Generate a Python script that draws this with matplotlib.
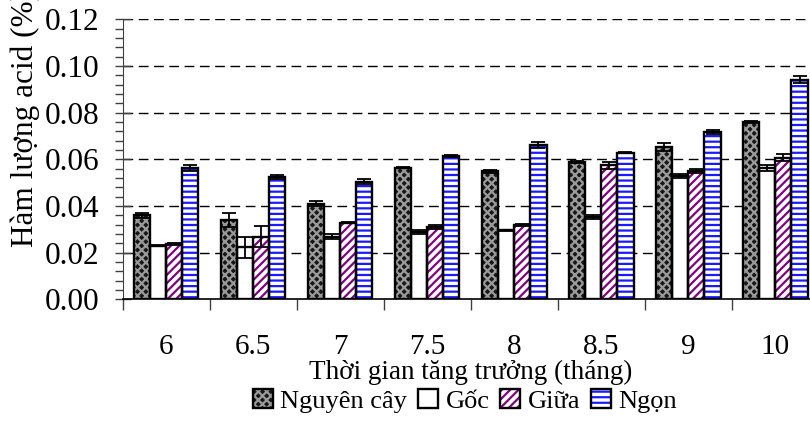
import matplotlib
matplotlib.use("Agg")
import matplotlib.pyplot as plt
from matplotlib.legend_handler import HandlerTuple
from matplotlib.ticker import MultipleLocator, FixedLocator, NullFormatter
import numpy as np

# growth time groups and acid content of each plant part
months = ["6", "6.5", "7", "7.5", "8", "8.5", "9", "10"]
series_names = ["Nguyên cây", "Gốc", "Giữa", "Ngọn"]

nguyen_cay = [0.0360, 0.0340, 0.0410, 0.0564, 0.0548, 0.0589, 0.0654, 0.0758]
nguyen_cay_err = [0.0010, 0.0030, 0.0010, 0.0003, 0.0008, 0.0003, 0.0017, 0.0004]

goc = [0.0229, 0.0222, 0.0268, 0.0287, 0.0296, 0.0352, 0.0527, 0.0564]
goc_err = [0.0002, 0.0045, 0.0010, 0.0008, 0.0002, 0.0008, 0.0008, 0.0013]

giua = [0.0237, 0.0267, 0.0328, 0.0310, 0.0318, 0.0575, 0.0549, 0.0607]
giua_err = [0.0003, 0.0045, 0.0003, 0.0008, 0.0003, 0.0015, 0.0008, 0.0015]

ngon = [0.0563, 0.0523, 0.0504, 0.0614, 0.0661, 0.0628, 0.0718, 0.0940]
ngon_err = [0.0012, 0.0008, 0.0012, 0.0003, 0.0012, 0.0003, 0.0008, 0.0015]

plt.rcParams["font.family"] = ["Liberation Serif", "DejaVu Serif"]
plt.rcParams["hatch.linewidth"] = 1.6

fig = plt.figure(figsize=(8.1, 4.28), dpi=100)
ax = fig.add_axes([0.1515, 0.3007, 1.011 - 0.1515, 0.955 - 0.3007])

x = np.arange(len(months))
w = 0.185

# (face colour, hatch, hatch colour)
styles = [
    ("#161616", "xxxx", "#9a9a9a"),
    ("white", None, "black"),
    ("white", "////", "#800080"),
    ("white", "---", "#1a1aff"),
]
values = [nguyen_cay, goc, giua, ngon]
errors = [nguyen_cay_err, goc_err, giua_err, ngon_err]

handles = []
for i, (vals, errs, (fc, hatch, hc)) in enumerate(zip(values, errors, styles)):
    pos = x + (i - 1.5) * w
    fill = ax.bar(pos, vals, w, color=fc, hatch=hatch, edgecolor=hc,
                  linewidth=0, zorder=3)
    outline = ax.bar(pos, vals, w, facecolor="none", edgecolor="black",
                     linewidth=1.7, zorder=4)
    ax.errorbar(pos, vals, yerr=errs, fmt="none", ecolor="black",
                elinewidth=1.3, capsize=5, capthick=1.3, zorder=5)
    handles.append((fill.patches[0], outline.patches[0]))

ax.set_xlim(-0.5, len(months) - 0.5)
ax.set_ylim(0, 0.12)

# dashed horizontal grid
for yv in np.arange(0.02, 0.121, 0.02):
    ax.axhline(yv, color="black", linewidth=1, linestyle=(0, (7, 4)), zorder=1)

for s in ["top", "right"]:
    ax.spines[s].set_visible(False)
ax.spines["left"].set_color("#404040")
ax.spines["bottom"].set_linewidth(1.2)

ax.yaxis.set_major_locator(MultipleLocator(0.02))
ax.yaxis.set_minor_locator(MultipleLocator(0.004))
ax.yaxis.set_major_formatter(matplotlib.ticker.FormatStrFormatter("%.2f"))
ax.tick_params(axis="y", which="major", direction="inout", length=12,
               width=1, labelsize=22.5, pad=11, color="#404040")
ax.tick_params(axis="y", which="minor", direction="out", length=6,
               width=1, color="#404040")

# boundary ticks between groups, labels in the middle of each group
ax.xaxis.set_major_locator(FixedLocator(np.arange(-0.5, len(months), 1.0)))
ax.xaxis.set_major_formatter(NullFormatter())
ax.xaxis.set_minor_locator(FixedLocator(x))
ax.set_xticklabels(months, minor=True)
ax.tick_params(axis="x", which="major", direction="out", length=8,
               width=1, color="#404040")
ax.tick_params(axis="x", which="minor", length=0, labelsize=21, pad=25)

ax.set_xlabel("Thời gian tăng trưởng (tháng)", fontsize=19.5)
ax.xaxis.set_label_coords((471 - 122.7) / (819 - 122.7), -0.215)

fig.text(25 / 810, 1 - 247 / 428, "Hàm lượng acid (%)", rotation=90,
         ha="center", va="bottom", fontsize=22.5)

fig.legend(handles, series_names, loc="center", ncol=4,
           bbox_to_anchor=(465 / 810, 1 - 401 / 428), frameon=False,
           fontsize=19, handlelength=0.75, handleheight=0.75,
           handletextpad=0.3, columnspacing=0.4, borderpad=0,
           handler_map={tuple: HandlerTuple(ndivide=1, pad=0)})

fig.savefig("out.png", dpi=100)
